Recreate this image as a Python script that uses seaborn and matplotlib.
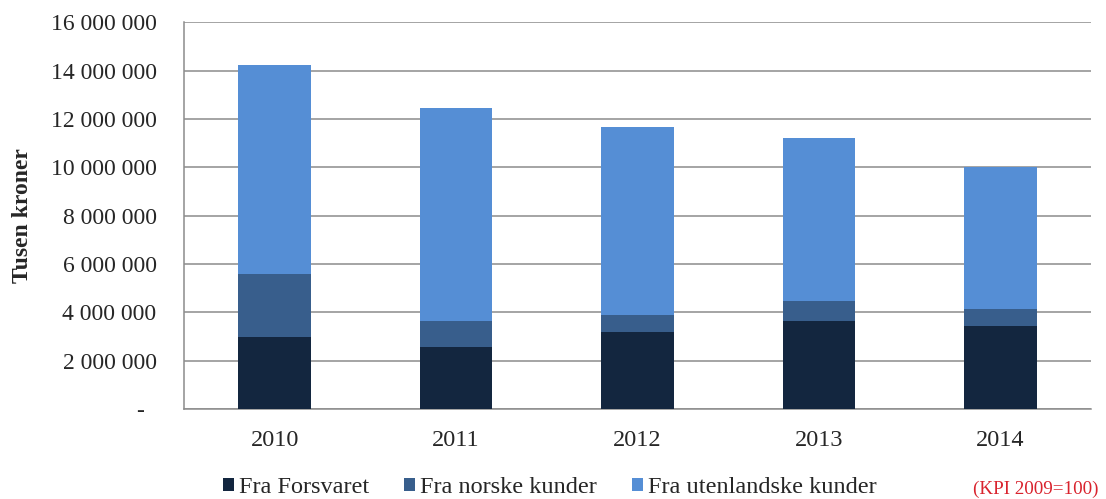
import numpy as np
import pandas as pd
import matplotlib
matplotlib.use("Agg")
import matplotlib.pyplot as plt
import seaborn as sns
from matplotlib.patches import Patch
from matplotlib.ticker import FuncFormatter, FixedLocator

# Data (tusen kroner), lest av figuren
aar = ["2010", "2011", "2012", "2013", "2014"]
fra_forsvaret = [2966000, 2579000, 3172000, 3641000, 3448000]
fra_norske = [2620000, 1062000, 731000, 828000, 676000]
fra_utenlandske = [8644000, 8799000, 7767000, 6731000, 5906000]

serier = ["Fra Forsvaret", "Fra norske kunder", "Fra utenlandske kunder"]
farger = ["#13263f", "#385e8c", "#558ed5"]

sns.set_style("white")
plt.rcParams["font.family"] = ["Liberation Serif", "DejaVu Serif"]

df = pd.DataFrame({"aar": aar, "f": fra_forsvaret, "n": fra_norske, "u": fra_utenlandske})
df["topp_n"] = df["f"] + df["n"]
df["topp_u"] = df["topp_n"] + df["u"]

fig = plt.figure(figsize=(11.06, 4.99), dpi=100)
ax = fig.add_axes([0.1664, 0.1804, 0.8201, 0.7749])

# stablet: tegn kumulative summer bakfra
for kol, farge in [("topp_u", farger[2]), ("topp_n", farger[1]), ("f", farger[0])]:
    sns.barplot(data=df, x="aar", y=kol, order=aar, color=farge, width=0.40,
                saturation=1, ax=ax, zorder=3, edgecolor="none")

ax.set_ylim(0, 16000000)
ax.set_xlim(-0.5, 4.5)
ax.yaxis.set_major_locator(FixedLocator(np.arange(0, 16000001, 2000000)))
ax.yaxis.set_major_formatter(FuncFormatter(
    lambda v, p: "-  " if v == 0 else f"{v:,.0f}".replace(",", " ")))
ax.grid(axis="y", color="#8c8c8c", lw=1.1, zorder=0)
ax.set_axisbelow(True)

for s in ["top", "right"]:
    ax.spines[s].set_visible(False)
for s in ["left", "bottom"]:
    ax.spines[s].set_color("#8c8c8c")
    ax.spines[s].set_linewidth(1.1)

ax.tick_params(axis="y", length=5.8, color="#8c8c8c", width=1.1, labelsize=17, pad=14)
ax.tick_params(axis="x", which="major", length=0, labelsize=17.5, pad=15)
ax.set_xticks(np.arange(-0.5, 5, 1), minor=True)
ax.tick_params(axis="x", which="minor", length=5.8, color="#8c8c8c", width=1.1)

ax.set_xlabel("")
ax.set_ylabel("Tusen kroner", fontsize=17, fontweight="bold")
ax.yaxis.set_label_coords(-0.1665, 0.5)

handles = [Patch(facecolor=c, edgecolor="none") for c in farger]
fig.legend(handles, serier, loc="center", bbox_to_anchor=(0.497, 0.023), ncol=3,
           frameon=False, fontsize=17.5, handlelength=0.45, handleheight=0.45,
           handletextpad=0.2, columnspacing=1.45, borderpad=0, borderaxespad=0)

fig.text(0.993, 0.002, "(KPI 2009=100)", color="#d9232d", fontsize=13.8,
         ha="right", va="bottom")

fig.savefig("out.png", dpi=100)
